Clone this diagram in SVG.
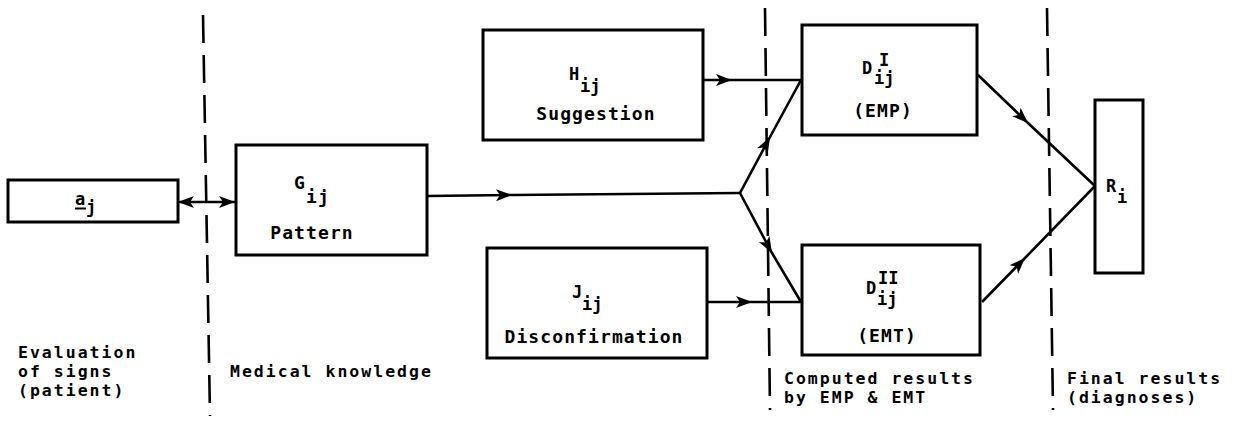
<svg xmlns="http://www.w3.org/2000/svg" width="1234" height="431" viewBox="0 0 1234 431">
  <defs>
    <style>
      .box { fill: #fff; stroke: #000; stroke-width: 3; }
      .ln { fill: none; stroke: #000; stroke-width: 2.6; }
      .dash { fill: none; stroke: #000; stroke-width: 2.6; stroke-dasharray: 28 12; }
      .t { font-family: "DejaVu Sans Mono", "Liberation Mono", monospace; font-weight: bold; font-size: 18px; letter-spacing: 1.1px; fill: #000; }
      .s { font-family: "DejaVu Sans Mono", "Liberation Mono", monospace; font-weight: bold; font-size: 17px; fill: #000; }
      .c { font-family: "DejaVu Sans Mono", "Liberation Mono", monospace; font-weight: bold; font-size: 16.5px; letter-spacing: 2px; fill: #000; }
    </style>
    <marker id="arrow" viewBox="-17 -7 18 14" refX="0" refY="0" markerWidth="18" markerHeight="14" markerUnits="userSpaceOnUse" orient="auto">
      <path d="M-16,-6 L0,0 L-16,6 L-12,0 Z" fill="#000"/>
    </marker>
    <marker id="arrowStart" viewBox="-1 -7 18 14" refX="0" refY="0" markerWidth="18" markerHeight="14" markerUnits="userSpaceOnUse" orient="auto">
      <path d="M16,-6 L0,0 L16,6 L12,0 Z" fill="#000"/>
    </marker>
  </defs>

  <rect width="1234" height="431" fill="#fff"/>

  <!-- column separators -->
  <g id="separators">
    <line class="dash" x1="203" y1="15" x2="210" y2="416"/>
    <line class="dash" x1="765" y1="8" x2="770" y2="410"/>
    <line class="dash" x1="1047" y1="8" x2="1053" y2="410"/>
  </g>

  <!-- connectors -->
  <g id="connectors">
    <line class="ln" x1="178" y1="202" x2="235" y2="202" marker-start="url(#arrowStart)" marker-end="url(#arrow)"/>
    <polyline class="ln" points="427,196 512,195 740,193" marker-mid="url(#arrow)"/>
    <polyline class="ln" points="740,193 770,137 801,80" marker-mid="url(#arrow)"/>
    <polyline class="ln" points="740,193 772,253 801,302" marker-mid="url(#arrow)"/>
    <polyline class="ln" points="703,80 732,80 802,80" marker-mid="url(#arrow)"/>
    <polyline class="ln" points="707,302 752,302 802,302" marker-mid="url(#arrow)"/>
    <polyline class="ln" points="978,75 1028,123 1095,186" marker-mid="url(#arrow)"/>
    <polyline class="ln" points="982,302 1025,258 1095,186" marker-mid="url(#arrow)"/>
  </g>

  <!-- signs input -->
  <g id="node-a">
    <rect class="box" x="8" y="180" width="170" height="42"/>
    <text class="s" x="75" y="205">a</text>
    <line x1="75" y1="208.5" x2="86" y2="208.5" stroke="#000" stroke-width="2"/>
    <text class="s" x="86" y="213">j</text>
  </g>

  <!-- pattern -->
  <g id="node-g">
    <rect class="box" x="236" y="145" width="191" height="110"/>
    <text class="t" x="294" y="189">G</text>
    <text class="t" x="306" y="203">ij</text>
    <text class="t" x="312" y="239" text-anchor="middle">Pattern</text>
  </g>

  <!-- suggestion -->
  <g id="node-h">
    <rect class="box" x="483" y="30" width="220" height="110"/>
    <text class="s" x="569" y="80">H</text>
    <text class="s" x="580" y="92">ij</text>
    <text class="t" x="596" y="120" text-anchor="middle">Suggestion</text>
  </g>

  <!-- disconfirmation -->
  <g id="node-j">
    <rect class="box" x="487" y="248" width="220" height="110"/>
    <text class="s" x="572" y="298">J</text>
    <text class="s" x="582" y="310">ij</text>
    <text class="t" x="594" y="343" text-anchor="middle">Disconfirmation</text>
  </g>

  <!-- EMP result -->
  <g id="node-d1">
    <rect class="box" x="802" y="25" width="175" height="110"/>
    <text class="s" x="862" y="74">D</text>
    <text class="s" x="879" y="66">I</text>
    <text class="s" x="874" y="84">ij</text>
    <text class="t" x="883" y="117" text-anchor="middle">(EMP)</text>
  </g>

  <!-- EMT result -->
  <g id="node-d2">
    <rect class="box" x="802" y="245" width="178" height="110"/>
    <text class="s" x="866" y="294">D</text>
    <text class="s" x="878" y="284">II</text>
    <text class="s" x="877" y="305">ij</text>
    <text class="t" x="887" y="342" text-anchor="middle">(EMT)</text>
  </g>

  <!-- final result -->
  <g id="node-r">
    <rect class="box" x="1095" y="100" width="48" height="173"/>
    <text class="s" x="1106" y="192">R</text>
    <text class="s" x="1117" y="203">i</text>
  </g>

  <!-- column captions -->
  <g id="captions">
    <text class="c" x="18" y="358">Evaluation</text>
    <text class="c" x="18" y="377">of signs</text>
    <text class="c" x="18" y="396">(patient)</text>
    <text class="c" x="230" y="377">Medical knowledge</text>
    <text class="c" x="784" y="384">Computed results</text>
    <text class="c" x="784" y="403">by EMP &amp; EMT</text>
    <text class="c" x="1067" y="384">Final results</text>
    <text class="c" x="1067" y="403">(diagnoses)</text>
  </g>
</svg>
